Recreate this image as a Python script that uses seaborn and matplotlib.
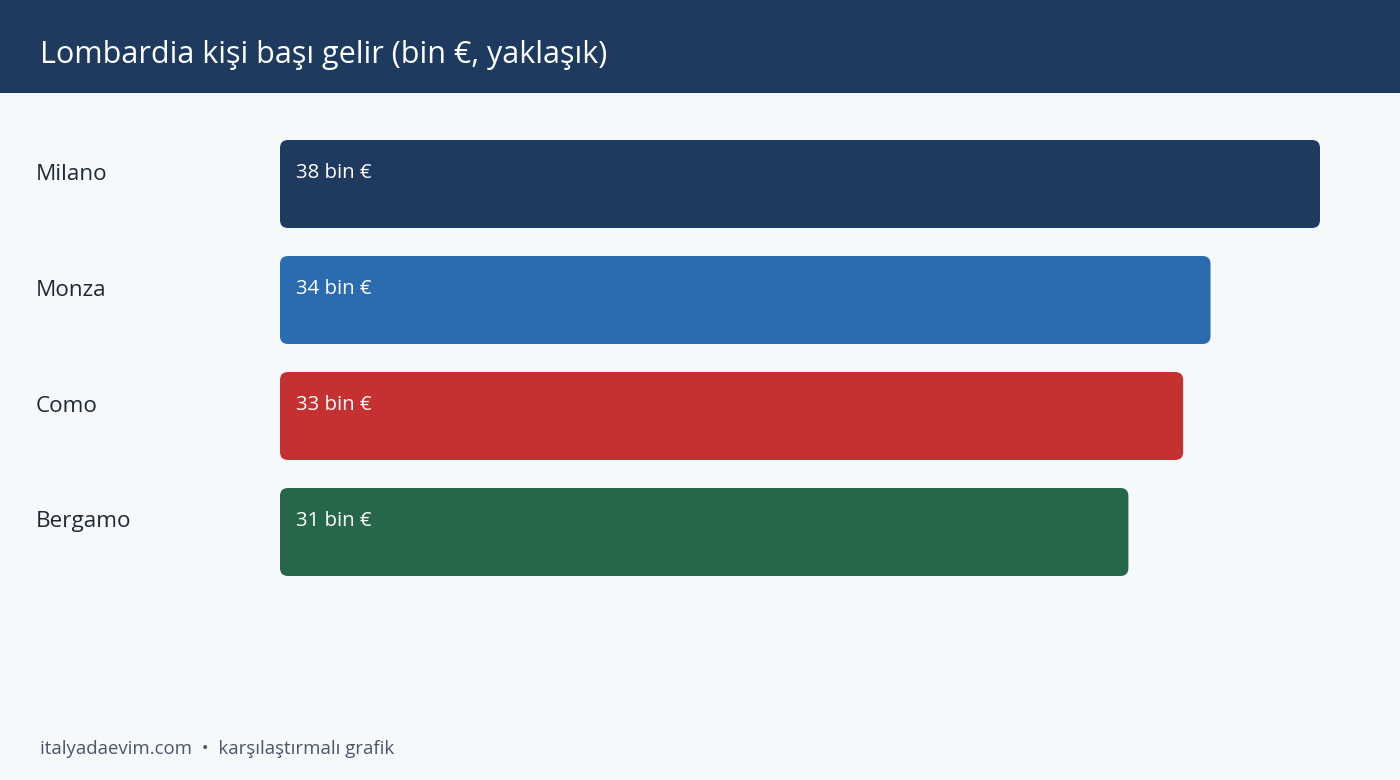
import matplotlib
matplotlib.use("Agg")
import matplotlib.pyplot as plt
import seaborn as sns
import pandas as pd
from matplotlib.patches import FancyBboxPatch, Rectangle

# Datos
provincias = ["Milano", "Monza", "Como", "Bergamo"]
gelir = [38, 34, 33, 31]
colores = ["#1f3a5f", "#2b6cb0", "#c53030", "#276749"]
etiquetas = ["38 bin €", "34 bin €", "33 bin €", "31 bin €"]

titulo = "Lombardia kişi başı gelir (bin €, yaklaşık)"
pie = "italyadaevim.com  •  karşılaştırmalı grafik"

sns.set_theme(style="white")
plt.rcParams["font.family"] = ["Open Sans", "DejaVu Sans"]

W, H = 1400, 780
fig = plt.figure(figsize=(W / 100, H / 100), dpi=100)
fig.patch.set_facecolor("#f5f9fc")

# cabecera
fig.patches.append(Rectangle((0, 1 - 93 / H), 1, 93 / H, transform=fig.transFigure,
                             facecolor="#1f3a5f", edgecolor="none", zorder=0))
fig.text(40 / W, 1 - 55 / H, titulo, color="white", fontsize=22, va="center", ha="left")

# eje de barras: x 280..1320 px, y 126..590 px
ax = fig.add_axes([280 / W, (H - 590) / H, 1040 / W, 464 / H])
ax.set_facecolor("none")

df = pd.DataFrame({"Provincia": provincias, "Gelir": gelir})
sns.barplot(data=df, x="Gelir", y="Provincia", hue="Provincia", palette=colores,
            saturation=1, orient="h", width=88 / 116, legend=False, ax=ax)
ax.set_xlim(0, 38)
ax.set_ylim(3.5, -0.5)
ax.axis("off")

# redondear esquinas
px_x = 38 / 1040
px_y = 4 / 464
radio = 8
for bar in list(ax.patches):
    x, y = bar.get_x(), bar.get_y()
    w, h = bar.get_width(), bar.get_height()
    fc = bar.get_facecolor()
    bar.remove()
    ax.add_patch(FancyBboxPatch((x, y), w, h,
                                boxstyle=f"round,pad=0,rounding_size={radio * px_x}",
                                mutation_aspect=px_y / px_x,
                                facecolor=fc, edgecolor="none"))

for i, (prov, lab) in enumerate(zip(provincias, etiquetas)):
    ax.text(16 * px_x, i - 0.5 + (14 + 33) / 116, lab, color="white", fontsize=14.7,
            va="center", ha="left")
    fig.text(36 / W, 1 - (174 + 116 * i) / H, prov, color="#1f2933", fontsize=16.2,
             va="center", ha="left")

fig.text(40 / W, 1 - 749 / H, pie, color="#4a5568", fontsize=13.4, va="center", ha="left")

plt.savefig("out.png", dpi=100, facecolor=fig.get_facecolor())
